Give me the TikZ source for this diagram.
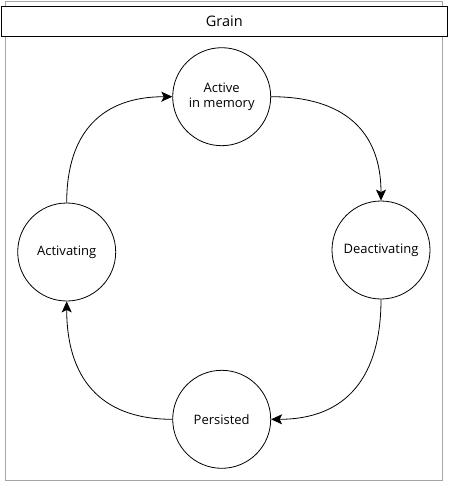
\documentclass[tikz,border=0pt]{standalone}
\usepackage{fontspec}
\setmainfont{Open Sans}
\usetikzlibrary{arrows.meta}

\begin{document}
\begin{tikzpicture}[x=1pt,y=-1pt,font=\fontsize{13}{15}\selectfont,
    state/.style={draw, circle, line width=0.8pt, minimum size=98pt, inner sep=0pt, align=center},
    flow/.style={-{Stealth[length=11pt,width=10pt,inset=2.5pt]}, line width=0.8pt, looseness=1.2}]

      \useasboundingbox (0,0) rectangle (448,482);

      % Grain フレーム
      \draw[line width=1pt, color=black!35] (5.5,1.5) rectangle (442.5,480);
      \node[draw, line width=0.8pt, fill=white, minimum width=445.5pt, minimum height=30pt,
            inner sep=0pt, font=\fontsize{14.5}{16}\selectfont] (grain) at (224.25,21) {Grain};

      % 状態
      \node[state] (active) at (221.7,96.7) {Active\\in memory};
      \node[state] (deact) at (381,250) {Deactivating};
      \node[state] (persisted) at (221.7,419.3) {Persisted};
      \node[state] (activating) at (66.7,252) {Activating};

      % 遷移
      \draw[flow] (active.east) to[out=0, in=90] (deact.north);
      \draw[flow] (deact.south) to[out=-90, in=0] (persisted.east);
      \draw[flow] (persisted.west) to[out=180, in=-90] (activating.south);
      \draw[flow] (activating.north) to[out=90, in=180] (active.west);

    \end{tikzpicture}
\end{document}
